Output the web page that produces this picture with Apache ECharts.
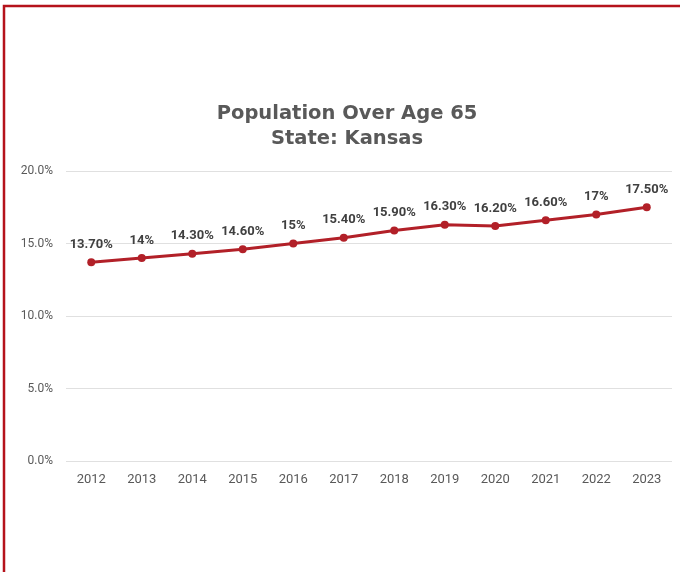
<!DOCTYPE html>
<html>
<head>
<meta charset="utf-8">
<script src="https://cdn.jsdelivr.net/npm/echarts@6/dist/echarts.min.js"></script>
<style>
  html, body { margin: 0; padding: 0; background: #fff; }
  #chart { width: 680px; height: 572px; }
</style>
</head>
<body>
<div id="chart"></div>
<script>
// 数据
const years = ['2012', '2013', '2014', '2015', '2016', '2017', '2018', '2019', '2020', '2021', '2022', '2023'];
const pctOver65 = [13.7, 14, 14.3, 14.6, 15, 15.4, 15.9, 16.3, 16.2, 16.6, 17, 17.5];
const yTicks = [0, 5, 10, 15, 20];

const chart = echarts.init(document.getElementById('chart'));

chart.setOption({
  animation: false,
  // 外框 + 标题
  graphic: [{
    type: 'rect',
    shape: { x: 4, y: 6, width: 700, height: 600 },
    style: { fill: 'none', stroke: '#B5121B', lineWidth: 2.5 },
    silent: true
  }, {
    type: 'text',
    x: 347,
    y: 101,
    silent: true,
    style: {
      text: 'Population Over Age 65\nState: Kansas',
      align: 'center',
      verticalAlign: 'top',
      fontFamily: 'DejaVu Sans',
      fontWeight: 'bold',
      fontSize: 19.5,
      lineHeight: 25,
      fill: '#595959'
    }
  }],
  grid: {
    left: 66,
    right: 8,
    top: 171,
    bottom: 111
  },
  xAxis: {
    type: 'category',
    data: years,
    boundaryGap: true,
    axisLine: { show: false },
    axisTick: { show: false },
    axisLabel: {
      color: '#595959',
      fontFamily: 'Roboto',
      fontSize: 13,
      margin: 12
    }
  },
  yAxis: {
    type: 'value',
    min: yTicks[0],
    max: yTicks[yTicks.length - 1],
    interval: 5,
    axisLine: { show: false },
    axisTick: { show: false },
    splitLine: { lineStyle: { color: '#E0E0E0', width: 1 } },
    axisLabel: {
      color: '#595959',
      fontFamily: 'Roboto',
      fontSize: 12,
      margin: 13,
      formatter: v => v.toFixed(1) + '%'
    }
  },
  series: [{
    type: 'line',
    data: pctOver65,
    symbol: 'circle',
    symbolSize: 8,
    lineStyle: { color: '#B22028', width: 3 },
    itemStyle: { color: '#B22028' },
    label: {
      show: true,
      position: 'top',
      distance: 7,
      color: '#404040',
      fontFamily: 'Roboto',
      fontWeight: 'bold',
      fontSize: 13,
      formatter: p => (Number.isInteger(p.value) ? p.value : p.value.toFixed(2)) + '%'
    }
  }]
});
</script>
</body>
</html>
